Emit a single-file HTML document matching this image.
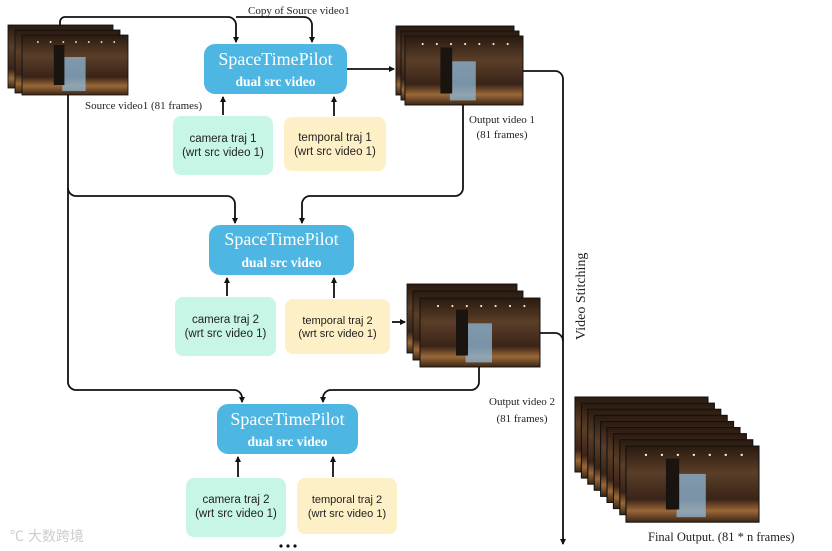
<!DOCTYPE html>
<html><head><meta charset="utf-8"><style>
html,body{margin:0;padding:0;background:#fff}
svg{display:block}
.s{font-family:"Liberation Serif",serif}
.a{font-family:"Liberation Sans","DejaVu Sans",sans-serif}
</style></head><body>
<svg width="832" height="551" viewBox="0 0 832 551" xmlns="http://www.w3.org/2000/svg">
<defs>
<marker id="ar" markerWidth="6" markerHeight="6" refX="5" refY="3" orient="auto" markerUnits="userSpaceOnUse"><path d="M0,0 L6,3 L0,6 z" fill="#111"/></marker>
<linearGradient id="stage" x1="0" y1="0" x2="0" y2="1">
<stop offset="0" stop-color="#2a1a10"/><stop offset="0.35" stop-color="#5a3e28"/><stop offset="0.7" stop-color="#3a2418"/><stop offset="0.85" stop-color="#9a6838"/><stop offset="1" stop-color="#3a2614"/></linearGradient>
<g id="frame">
<rect x="0" y="0" width="100" height="60" fill="url(#stage)" stroke="#111" stroke-width="0.8"/>
<rect x="38" y="22" width="22" height="34" fill="#8fb8d8" opacity="0.75"/>
<rect x="30" y="10" width="10" height="40" fill="#1a1410"/>
<g fill="#fff5d0"><circle cx="15" cy="7" r="0.9"/><circle cx="27" cy="7" r="0.9"/><circle cx="39" cy="7" r="0.9"/><circle cx="51" cy="7" r="0.9"/><circle cx="63" cy="7" r="0.9"/><circle cx="75" cy="7" r="0.9"/><circle cx="87" cy="7" r="0.9"/></g>
</g>
</defs>
<g fill="none" stroke="#111" stroke-width="1.8">
<path d="M60,25 V22 a5,5 0 0 1 5,-5 H228 a8,8 0 0 1 8,8 V42" marker-end="url(#ar)"/>
<path d="M236,17 H304 a8,8 0 0 1 8,8 V42" marker-end="url(#ar)"/>
<path d="M68,95 V188 a8,8 0 0 0 8,8 H227 a8,8 0 0 1 8,8 V223" marker-end="url(#ar)"/>
<path d="M68,188 V382 a8,8 0 0 0 8,8 H234 a8,8 0 0 1 8,8 V402" marker-end="url(#ar)"/>
<path d="M463,105 V188 a8,8 0 0 1 -8,8 H310 a8,8 0 0 0 -8,8 V223" marker-end="url(#ar)"/>
<path d="M479,367 V382 a8,8 0 0 1 -8,8 H331 a8,8 0 0 0 -8,8 V402" marker-end="url(#ar)"/>
<path d="M347,69 H394" marker-end="url(#ar)"/>
<path d="M392,322 H405" marker-end="url(#ar)"/>
<path d="M523,71 H555 a8,8 0 0 1 8,8 V544" marker-end="url(#ar)"/>
<path d="M540,333 H555 a8,8 0 0 1 8,8"/>
<path d="M223,115 V97" marker-end="url(#ar)"/><path d="M334,116 V97" marker-end="url(#ar)"/>
<path d="M227,296 V278" marker-end="url(#ar)"/><path d="M334,298 V278" marker-end="url(#ar)"/>
<path d="M238,477 V457" marker-end="url(#ar)"/><path d="M333,477 V457" marker-end="url(#ar)"/>
</g>
<use href="#frame" transform="translate(8,25) scale(1.05,1.05)"/>
<use href="#frame" transform="translate(15,30) scale(1.05,1.05)"/>
<use href="#frame" transform="translate(22,35) scale(1.06,1.0)"/>
<use href="#frame" transform="translate(396,26) scale(1.18,1.15)"/>
<use href="#frame" transform="translate(401,31) scale(1.18,1.15)"/>
<use href="#frame" transform="translate(405,36) scale(1.18,1.15)"/>
<use href="#frame" transform="translate(407,284) scale(1.1,1.15)"/>
<use href="#frame" transform="translate(413,291) scale(1.1,1.15)"/>
<use href="#frame" transform="translate(420,298) scale(1.2,1.15)"/>
<use href="#frame" transform="translate(575,397) scale(1.33,1.25)"/>
<use href="#frame" transform="translate(581.4,403.1) scale(1.33,1.25)"/>
<use href="#frame" transform="translate(587.8,409.2) scale(1.33,1.25)"/>
<use href="#frame" transform="translate(594.2,415.3) scale(1.33,1.25)"/>
<use href="#frame" transform="translate(600.6,421.4) scale(1.33,1.25)"/>
<use href="#frame" transform="translate(607,427.5) scale(1.33,1.25)"/>
<use href="#frame" transform="translate(613.4,433.6) scale(1.33,1.25)"/>
<use href="#frame" transform="translate(619.8,439.7) scale(1.33,1.25)"/>
<use href="#frame" transform="translate(626,446) scale(1.33,1.27)"/>
<g fill="#4db6e3">
<rect x="204" y="44" width="143" height="50" rx="11"/>
<rect x="209" y="225" width="145" height="50" rx="11"/>
<rect x="217" y="404" width="141" height="50" rx="11"/>
</g>
<g class="s" fill="#fff" text-anchor="middle">
<text x="275.5" y="65" font-size="18">SpaceTimePilot</text><text x="275.5" y="86" font-size="13.5" font-weight="bold">dual src video</text>
<text x="281.5" y="245" font-size="18">SpaceTimePilot</text><text x="281.5" y="267" font-size="13.5" font-weight="bold">dual src video</text>
<text x="287.5" y="425" font-size="18">SpaceTimePilot</text><text x="287.5" y="446" font-size="13.5" font-weight="bold">dual src video</text>
</g>
<g fill="#c8f6e6"><rect x="173" y="116" width="100" height="59" rx="8"/><rect x="175" y="297" width="101" height="59" rx="8"/><rect x="186" y="478" width="100" height="59" rx="8"/></g>
<g fill="#fdf0c6"><rect x="284" y="117" width="102" height="54" rx="8"/><rect x="285" y="299" width="105" height="55" rx="8"/><rect x="297" y="478" width="100" height="56" rx="8"/></g>
<g class="a" fill="#222" font-size="11.5" text-anchor="middle">
<text x="223" y="142">camera traj 1</text><text x="223" y="156">(wrt src video 1)</text>
<text x="335" y="141">temporal traj 1</text><text x="335" y="155">(wrt src video 1)</text>
<text x="225.5" y="323">camera traj 2</text><text x="225.5" y="337">(wrt src video 1)</text>
<text x="337.5" y="324" font-size="11">temporal traj 2</text><text x="337.5" y="337" font-size="11">(wrt src video 1)</text>
<text x="236" y="503">camera traj 2</text><text x="236" y="517">(wrt src video 1)</text>
<text x="347" y="503" font-size="11">temporal traj 2</text><text x="347" y="517" font-size="11">(wrt src video 1)</text>
</g>
<g class="s" fill="#222" font-size="11">
<text x="248" y="14">Copy of Source video1</text>
<text x="85" y="109">Source video1 (81 frames)</text>
<text x="502" y="123" text-anchor="middle">Output video 1</text><text x="502" y="138" text-anchor="middle">(81 frames)</text>
<text x="522" y="405" text-anchor="middle">Output video 2</text><text x="522" y="422" text-anchor="middle">(81 frames)</text>
<text x="648" y="541" font-size="12.5">Final Output.   (81 * n frames)</text>
<text transform="translate(585,340) rotate(-90)" font-size="14">Video Stitching</text>
</g>
<g fill="#111"><circle cx="281" cy="546" r="1.6"/><circle cx="288" cy="546" r="1.6"/><circle cx="295" cy="546" r="1.6"/></g>
<text x="10" y="541" font-size="14" fill="#ccc" font-family="'Liberation Sans','Noto Sans CJK SC',sans-serif">℃ 大数跨境</text>
</svg>
</body></html>
